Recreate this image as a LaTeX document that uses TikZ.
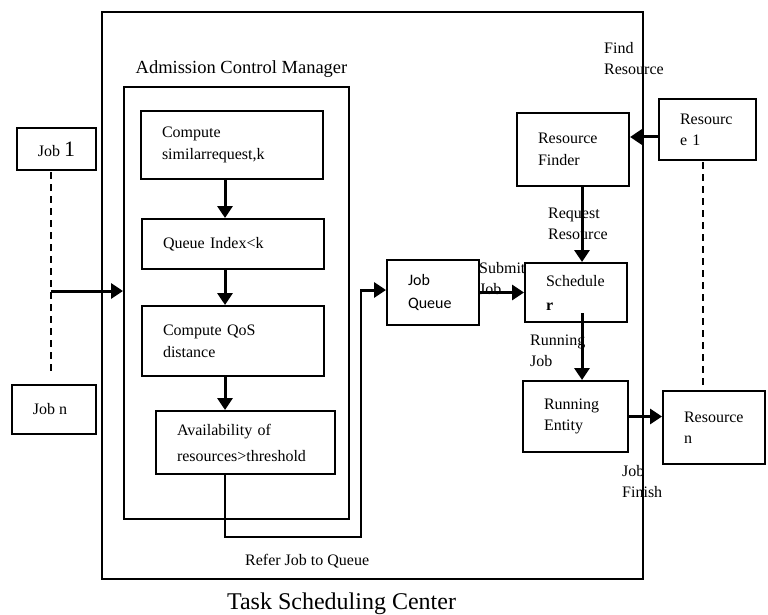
\documentclass[tikz,border=0pt]{standalone}
\usepackage{fontspec}
\setmainfont{Liberation Serif}
\newfontfamily\calib{Carlito}
\usetikzlibrary{arrows.meta,calc}
\begin{document}
\begin{tikzpicture}[x=1pt,y=-1pt,
  bx/.style={draw,line width=2pt,inner xsep=21pt,inner ysep=0pt,align=left,
     font=\fontsize{16}{22}\selectfont},
  cbx/.style={draw,line width=2pt,inner sep=0pt,align=center,
     font=\fontsize{16}{22}\selectfont},
  lbl/.style={inner sep=0pt,align=left,anchor=west,font=\fontsize{16}{21}\selectfont},
  arr/.style={line width=3pt,-{Triangle[length=12pt,width=15pt]}},
  dsh/.style={line width=2pt,dash pattern=on 7pt off 5pt},
  thin/.style={line width=2pt}]
\useasboundingbox (0,0) rectangle (768,615);
\fill[white] (0,0) rectangle (768,615);

% outer frame
\node[draw,line width=2pt,minimum width=541pt,minimum height=567pt,inner sep=0pt] (tsc) at (372.5,295.5) {};
\node[anchor=base,inner sep=0pt,font=\fontsize{24}{28}\selectfont] (tsct) at (341.5,609) {Task Scheduling Center};

% admission control manager
\node[anchor=base,inner sep=0pt,font=\fontsize{18.5}{22}\selectfont] (acmt) at (241.5,74) {Admission Control Manager};
\node[draw,line width=2pt,minimum width=225pt,minimum height=432pt,inner sep=0pt] (acm) at (236.5,303) {};

\node[bx,text width=140pt,minimum height=68pt] (c1) at (232,145) {Compute\\similarrequest,k};
\node[bx,text width=140pt,minimum height=50pt] (c2) at (233,244) {Queue Index<k};
\node[bx,text width=140pt,minimum height=70pt] (c3) at (233,341) {Compute QoS\\distance};
\node[bx,text width=137pt,minimum height=63pt,font=\fontsize{16}{26}\selectfont] (c4) at (245.5,442.5) {Availability of\\resources>threshold};

\coordinate (colx) at (225,0);
\draw[arr] (c1.south -| colx) -- (c2.north -| colx);
\draw[arr] (c2.south -| colx) -- (c3.north -| colx);
\draw[arr] (c3.south -| colx) -- (c4.north -| colx);

% jobs
\node[cbx,minimum width=79pt,minimum height=42pt] (job1) at (56.5,149) {Job {\fontsize{22}{22}\selectfont 1}};
\node[cbx,minimum width=84pt,minimum height=49pt,inner xsep=0pt] (jobn) at (54,409.5) {\hspace*{-8pt}Job n};
\coordinate (jd) at (51,172);
\coordinate (jin) at (51,291);
\draw[dsh] (jd) -- (jd |- 0,375);
\draw[arr] (jin) -- (jin -| acm.west);

% job queue
\node[bx,text width=50pt,minimum height=65pt,font=\calib\fontsize{16}{23}\selectfont] (jq) at (433,292.5) {Job\\Queue};
\coordinate (rb) at (361,537);
\draw[thin] (c4.south -| colx) |- (rb) -- (rb |- 0,289);
\draw[arr] (rb |- 0,290) -- (jq.west |- 0,290);
\node[lbl] (rjq) at (245,561) {Refer Job to Queue};

% right part
\node[bx,text width=60pt,minimum height=59pt,font=\fontsize{16}{24}\selectfont] (sch) at (576,292.5) {Schedule\\\textbf{r}};
\node[bx,text width=70pt,minimum height=73pt] (rf) at (573,149.5) {Resource\\Finder};
\node[bx,text width=55pt,minimum height=61pt,font=\fontsize{16}{21}\selectfont] (r1) at (707.5,129.5) {Resourc\\e 1};
\node[bx,text width=63pt,minimum height=71pt,font=\fontsize{16}{21}\selectfont] (re) at (575.5,416.5) {Running\\Entity};
\node[bx,text width=60pt,minimum height=73pt,font=\fontsize{16}{21}\selectfont] (rn) at (714,427.5) {Resource\\n};

\draw[arr] (jq.east) -- (sch.west |- jq.east);
\node[lbl] (sj) at (479,279) {Submit\\Job};

\coordinate (colr) at (582,0);
\draw[arr] (rf.south -| colr) -- (sch.north -| colr);
\node[lbl] (rr) at (548,223.5) {Request\\Resource};
\draw[arr] (colr |- 0,313) -- (re.north -| colr);
\node[lbl] (rjb) at (530,350.5) {Running\\Job};

\coordinate (ay) at (0,137);
\draw[arr] (r1.west |- ay) -- (rf.east |- ay);
\node[lbl] (fr) at (604,58.5) {Find\\Resource};

\coordinate (rd) at (703,162);
\draw[dsh] (rd) -- (rd |- 0,386);

\draw[arr] (re.east) -- (rn.west |- re.east);
\node[lbl] (jf) at (622,482) {Job\\Finish};
\end{tikzpicture}
\end{document}
